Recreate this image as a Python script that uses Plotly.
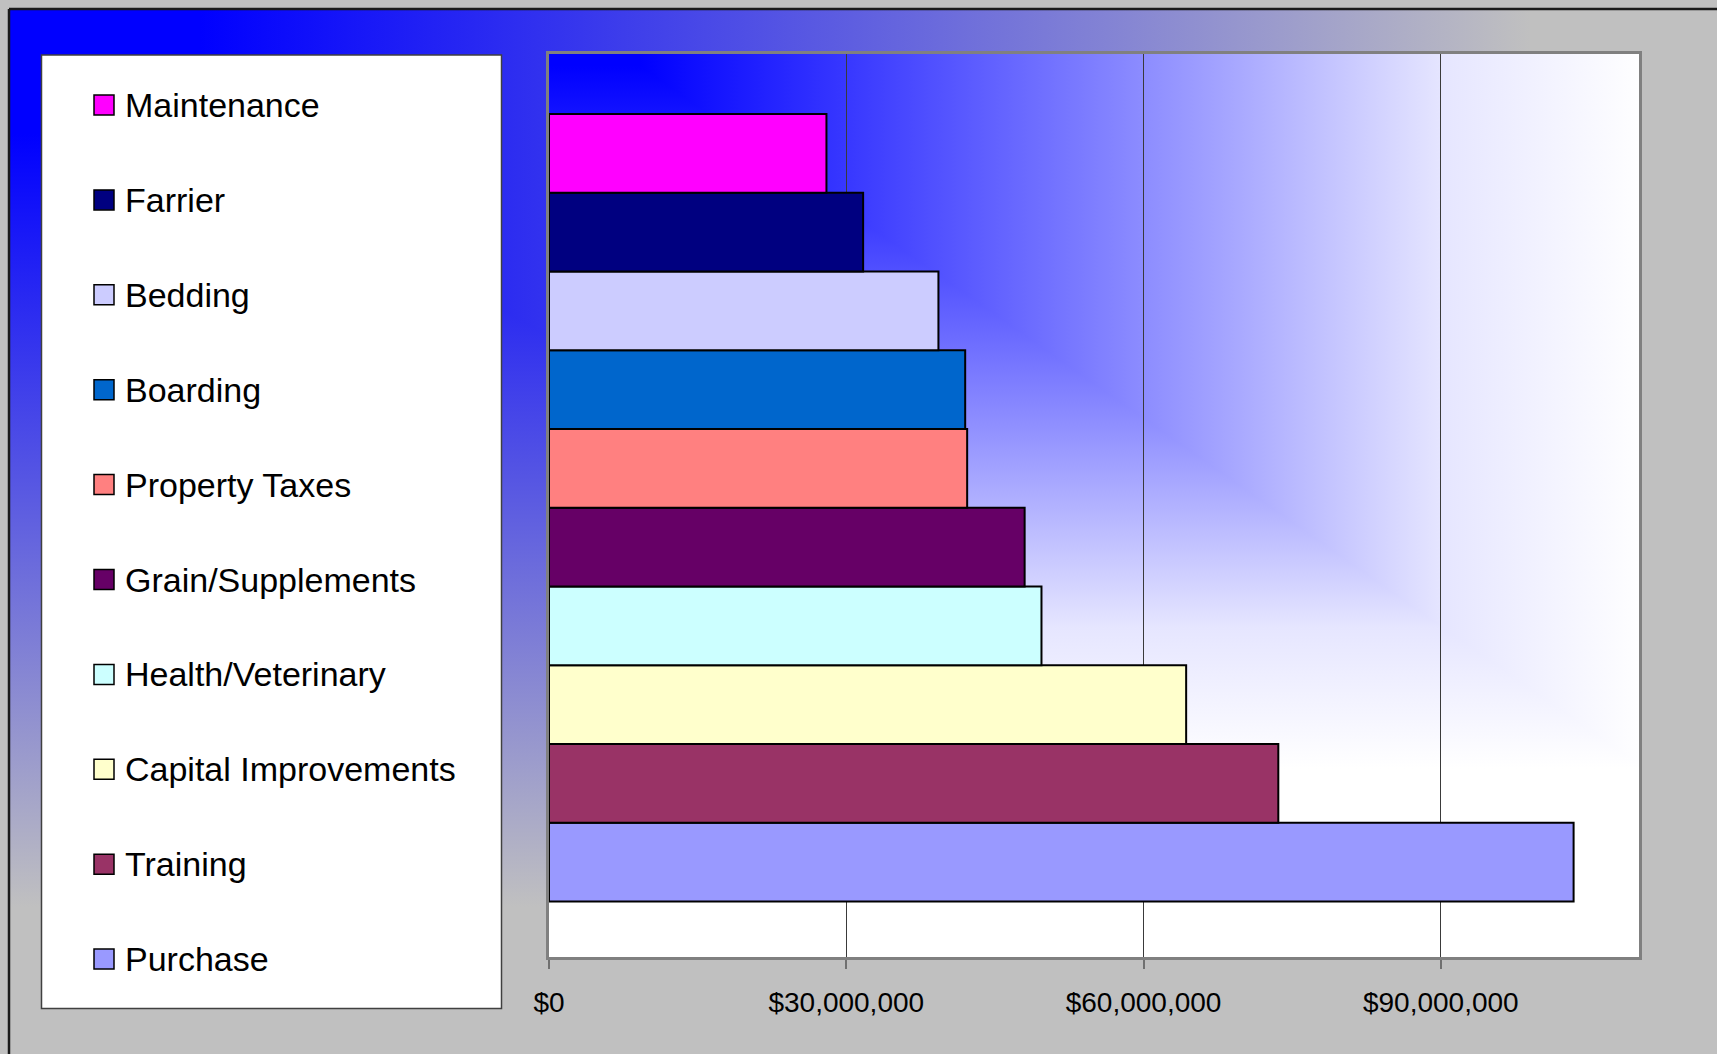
import base64
import plotly.graph_objects as go

# ---------------- data ----------------
categories = ["Purchase", "Training", "Capital Improvements", "Health/Veterinary",
              "Grain/Supplements", "Property Taxes", "Boarding", "Bedding",
              "Farrier", "Maintenance"]
values = [103_400_000, 73_600_000, 64_300_000, 49_700_000, 48_000_000,
          42_200_000, 42_000_000, 39_300_000, 31_700_000, 28_000_000]
colors = ["#9999FF", "#993366", "#FFFFCC", "#CCFFFF", "#660066",
          "#FF8080", "#0066CC", "#CCCCFF", "#000080", "#FF00FF"]
tick_values = [0, 30_000_000, 60_000_000, 90_000_000]
tick_labels = ["$0", "$30,000,000", "$60,000,000", "$90,000,000"]
x_max = 110_000_000

# ---------------- geometry (pixels) ----------------
W, H = 1717, 1054
PL, PT, PR, PB = 549, 54, 1639, 957
FONT = "Liberation Sans, Arial, sans-serif"


def px(xp):
    return (xp - PL) / (PR - PL)


def py(yp):
    return (PB - yp) / (PB - PT)


def corner_gradient(w, h, stops, x0, x1, y0, y1):
    slope = (y1 - y0) / (x1 - x0)
    yl = y0 - x0 * slope
    yr = y0 + (w - x0) * slope
    st = "".join(f"<stop offset='{o}' stop-color='{c}'/>" for o, c in stops)
    svg = (
        f"<svg xmlns='http://www.w3.org/2000/svg' width='{w}' height='{h}' "
        f"viewBox='0 0 {w} {h}' preserveAspectRatio='none'>"
        "<defs>"
        f"<linearGradient id='gh' gradientUnits='userSpaceOnUse' x1='{x0}' y1='0' x2='{x1}' y2='0'>"
        f"{st}</linearGradient>"
        f"<linearGradient id='gv' gradientUnits='userSpaceOnUse' x1='0' y1='{y0}' x2='0' y2='{y1}'>"
        f"{st}</linearGradient>"
        "</defs>"
        f"<rect x='0' y='0' width='{w}' height='{h}' fill='url(#gv)'/>"
        f"<polygon points='0,-10 {w},-10 {w},{yr:.2f} 0,{yl:.2f}' fill='url(#gh)'/>"
        "</svg>"
    )
    return "data:image/svg+xml;base64," + base64.b64encode(svg.encode()).decode()


outer_stops = [(0, "#0000FF"), (1, "#C0C0C0")]
plot_stops = [(0, "#0000FF"), (0.2, "#3636FF"), (0.5, "#8C8CFF"),
              (0.8, "#E6E6FF"), (1, "#FFFFFF")]

fig = go.Figure()
for name, val, col in zip(categories, values, colors):
    fig.add_trace(go.Bar(
        y=["Costs"], x=[val], name=name, orientation="h",
        marker=dict(color=col, line=dict(color="black", width=2)),
        showlegend=False,
        hovertemplate=name + ": $%{x:,.0f}<extra></extra>",
    ))

shapes = []
annotations = []

# outer frame lines
shapes.append(dict(type="line", xref="paper", yref="paper",
                   x0=px(9), x1=px(W + 5), y0=py(9), y1=py(9),
                   line=dict(color="#1a1a1a", width=2.5), layer="below"))
shapes.append(dict(type="line", xref="paper", yref="paper",
                   x0=px(9), x1=px(9), y0=py(9), y1=py(H + 5),
                   line=dict(color="#1a1a1a", width=2.5), layer="below"))

# legend box
shapes.append(dict(type="rect", xref="paper", yref="paper",
                   x0=px(41.5), x1=px(501.5), y0=py(55), y1=py(1008.5),
                   fillcolor="white", line=dict(color="#404040", width=1.5),
                   layer="below"))

legend_names = list(reversed(categories))
legend_colors = list(reversed(colors))
for i, (name, col) in enumerate(zip(legend_names, legend_colors)):
    yc = 105 + i * 94.9
    shapes.append(dict(type="rect", xref="paper", yref="paper",
                       x0=px(94), x1=px(114), y0=py(yc - 10), y1=py(yc + 10),
                       fillcolor=col, line=dict(color="black", width=1.5)))
    annotations.append(dict(xref="paper", yref="paper", x=px(123), y=py(yc),
                            xanchor="left", yanchor="middle", showarrow=False,
                            text=name, font=dict(family=FONT, size=34, color="black")))

images = [
    dict(source=corner_gradient(W - 9, H - 9, outer_stops, 191, 1521, 125, 898),
         xref="paper", yref="paper", x=px(9), y=py(9),
         sizex=(W - 9) / (PR - PL), sizey=(H - 9) / (PB - PT),
         xanchor="left", yanchor="top", sizing="stretch", layer="below"),
    dict(source=corner_gradient(PR - PL, PB - PT, plot_stops, 91, 1096, 12, 715),
         xref="paper", yref="paper", x=0, y=1, sizex=1, sizey=1,
         xanchor="left", yanchor="top", sizing="stretch", layer="below"),
]

fig.update_layout(
    width=W, height=H,
    margin=dict(l=PL, r=W - PR, t=PT, b=H - PB, pad=0),
    paper_bgcolor="#C0C0C0",
    plot_bgcolor="rgba(0,0,0,0)",
    barmode="group", bargap=0.128, bargroupgap=0,
    showlegend=False,
    font=dict(family=FONT, color="black"),
    shapes=shapes, annotations=annotations, images=images,
    xaxis=dict(range=[0, x_max], tickvals=tick_values, ticktext=tick_labels,
               ticks="outside", ticklen=9, tickwidth=1.5, tickcolor="#707070",
               showgrid=True, gridcolor="#3a3a3a", gridwidth=1,
               showline=True, linecolor="#808080", linewidth=2.5, mirror=True,
               zeroline=False, tickfont=dict(family=FONT, size=28, color="black"),
               ticklabelstandoff=10, fixedrange=True),
    yaxis=dict(showticklabels=False, ticks="", showgrid=False, zeroline=False,
               range=[-0.4975, 0.5025],
               showline=True, linecolor="#808080", linewidth=2.5, mirror=True,
               fixedrange=True),
)

fig.write_html("out.html", config={"displayModeBar": False},
               post_script="document.body.style.margin='0';document.body.style.overflow='hidden';")
